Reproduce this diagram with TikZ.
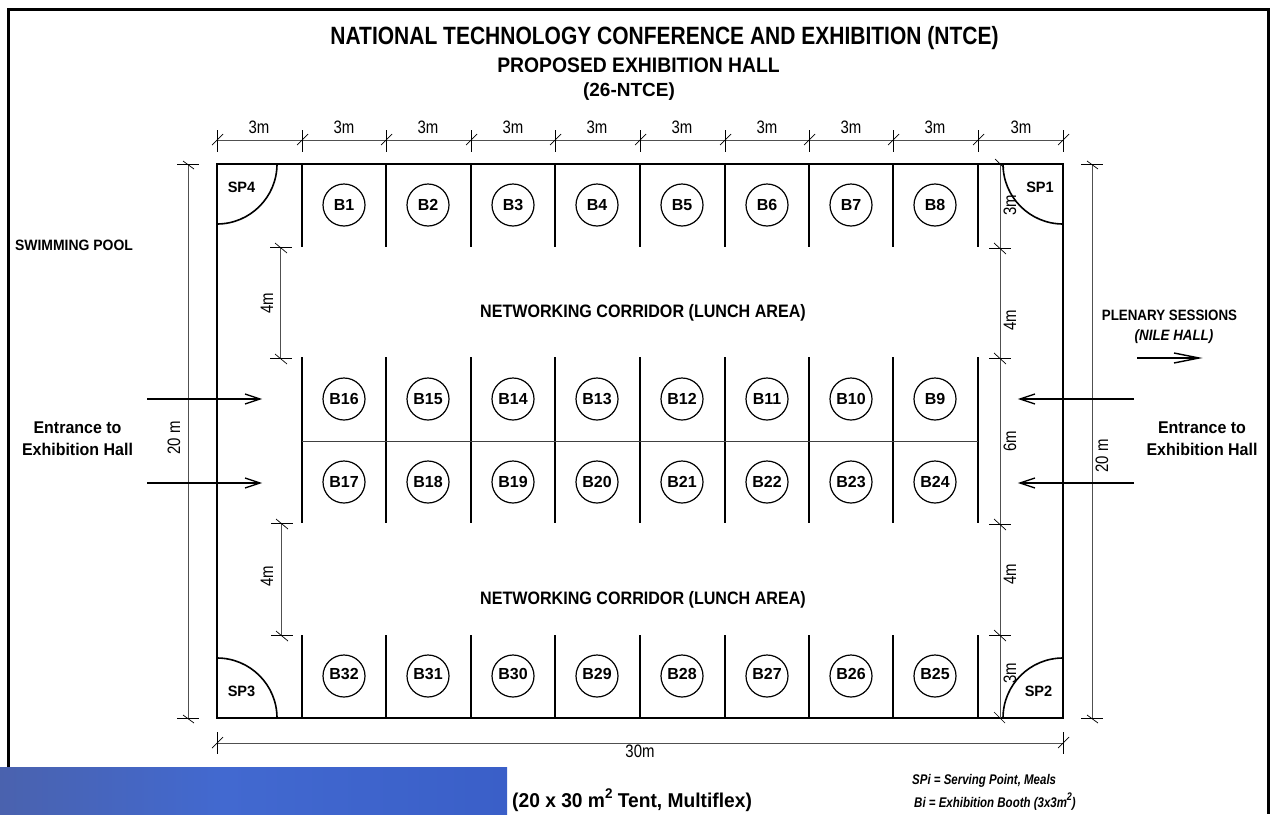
\documentclass[tikz,border=0pt]{standalone}
\usepackage{graphicx}
\usepackage{fontspec}
\setmainfont{Liberation Sans}
\definecolor{bandA}{HTML}{4A62AE}
\definecolor{bandB}{HTML}{4269D0}
\definecolor{bandC}{HTML}{3A5FC8}
\definecolor{bandD}{HTML}{2E52B8}
\definecolor{dimgray}{HTML}{505050}
\pgfdeclarehorizontalshading{bandshade}{100bp}{
  color(0bp)=(bandA); color(25bp)=(bandA); color(47bp)=(bandB); color(75bp)=(bandC); color(100bp)=(bandD)}
\newcommand\sqz[2]{\scalebox{#1}[1]{#2}}
\begin{document}
\begin{tikzpicture}[x=1pt,y=-1pt,
  wall/.style={line width=1.6pt,black},
  thin wall/.style={line width=1pt,black!75},
  dimline/.style={line width=1pt,dimgray},
  tick/.style={line width=0.7pt,black},
  booth/.style={circle,draw=black,line width=1.2pt,minimum size=42pt,inner sep=0pt,font=\bfseries\fontsize{16}{16}\selectfont},
  txt/.style={inner sep=0pt,font=\bfseries\fontsize{15}{16}\selectfont},
  dimtxt/.style={inner sep=0pt,font=\fontsize{18}{18}\selectfont},
  entry/.style={line width=1.4pt,black},
]
\useasboundingbox (0,0) rectangle (1274,814);
% frame
\draw[line width=3pt] (8,814) -- (8,9) -- (1268,9) -- (1268,814);
% band
\shade[shading=bandshade] (0,767) rectangle (507,814);
% titles
\node[txt,font=\bfseries\fontsize{25}{25}\selectfont] (t1) at (664.5,38) {\sqz{.84}{NATIONAL TECHNOLOGY CONFERENCE AND EXHIBITION (NTCE)}};
\node[txt,font=\bfseries\fontsize{21}{21}\selectfont] (t2) at (638.5,65) {\sqz{.92}{PROPOSED EXHIBITION HALL}};
\node[txt,font=\bfseries\fontsize{19}{19}\selectfont] (t3) at (629,92) {\sqz{1}{(26-NTCE)}};
% hall
\draw[wall] (217,164) rectangle (1063,718);
% quadrants
\draw[wall] (277,164) arc[start angle=0,end angle=90,radius=60];
\draw[wall] (1003,164) arc[start angle=180,end angle=90,radius=60];
\draw[wall] (217,658) arc[start angle=-90,end angle=0,radius=60];
\draw[wall] (1003,718) arc[start angle=180,end angle=270,radius=60];
\node[txt] (sp4) at (241.5,187.5) {\sqz{.97}{SP4}};
\node[txt] (sp1) at (1040,187.5) {\sqz{.97}{SP1}};
\node[txt] (sp3) at (241.5,691.5) {\sqz{.97}{SP3}};
\node[txt] (sp2) at (1038.5,691.5) {\sqz{.97}{SP2}};
% walls and booths
\foreach \x in {302,386,471,555,640,725,809,893,978}{
  \draw[wall] (\x,164) -- (\x,247);
  \draw[wall] (\x,357) -- (\x,523);
  \draw[wall] (\x,635) -- (\x,718);
}
\draw[thin wall] (302,441) -- (978,441);
\foreach \n/\x in {1/344,2/428,3/513,4/597,5/682,6/767,7/851,8/935}
  \node[booth] (b\n) at (\x,205) {B\n};
\foreach \n/\x in {16/344,15/428,14/513,13/597,12/682,11/767,10/851,9/935}
  \node[booth] (b\n) at (\x,399) {B\n};
\foreach \n/\x in {17/344,18/428,19/513,20/597,21/682,22/767,23/851,24/935}
  \node[booth] (b\n) at (\x,482) {B\n};
\foreach \n/\x in {32/344,31/428,30/513,29/597,28/682,27/767,26/851,25/935}
  \node[booth] (b\n) at (\x,676) {\raisebox{4pt}{B\n}};
% corridors
\node[txt,font=\bfseries\fontsize{18}{18}\selectfont] (c1) at (643,313) {\sqz{.895}{NETWORKING CORRIDOR (LUNCH AREA)}};
\node[txt,font=\bfseries\fontsize{18}{18}\selectfont] (c2) at (643,600) {\sqz{.895}{NETWORKING CORRIDOR (LUNCH AREA)}};
% top dimension
\draw[dimline] (217,140) -- (1063,140);
\foreach \x in {217,302,386,471,555,640,725,809,893,978,1063}{
  \draw[tick] (\x,130) -- (\x,152);
  \draw[tick] (\x-5,145) -- (\x+6,134);
}
\foreach \x in {259,344,428,513,597,682,767,851,935,1021}
  \node[dimtxt] at (\x,127) {\sqz{.83}{3m}};
% bottom dimension
\draw[dimline] (217,743) -- (1063,743);
\foreach \x in {217,1063}{
  \draw[tick] (\x,732) -- (\x,754);
  \draw[tick] (\x-5,748) -- (\x+6,737);
}
\node[dimtxt] at (640,751) {\sqz{.83}{30m}};
% left 20 m
\draw[dimline] (188,164) -- (188,718);
\foreach \y in {164,718}{
  \draw[tick] (177,\y) -- (199,\y);
  \draw[tick] (183,\y-3) -- (194,\y+5);
}
\node[dimtxt,rotate=90] at (174,438) {\sqz{.83}{20 m}};
% right 20 m
\draw[dimline] (1092,164) -- (1092,718);
\foreach \y in {164,718}{
  \draw[tick] (1081,\y) -- (1103,\y);
  \draw[tick] (1087,\y-3) -- (1098,\y+5);
}
\node[dimtxt,rotate=90] at (1102,456) {\sqz{.83}{20 m}};
% left 4m
\draw[dimline] (280,247) -- (280,358);
\draw[dimline] (281,523) -- (281,635);
\foreach \y/\xx in {247/280,358/280,523/281,635/281}{
  \draw[tick] (\xx-10,\y) -- (\xx+12,\y);
  \draw[tick] (\xx-5,\y-4) -- (\xx+7,\y+6);
}
\node[dimtxt,rotate=90] at (267,303) {\sqz{.83}{4m}};
\node[dimtxt,rotate=90] at (267,576) {\sqz{.83}{4m}};
% right chain
\draw[dimline] (1000,164) -- (1000,718);
\foreach \y in {248,358,524,635}{
  \draw[tick] (989,\y) -- (1011,\y);
  \draw[tick] (994,\y-5) -- (1006,\y+6);
}
\draw[tick] (995,159) -- (1004,168);
\draw[tick] (994,712) -- (1005,723);
\node[dimtxt,rotate=90] at (1010,205) {\sqz{.83}{3m}};
\node[dimtxt,rotate=90] at (1010,320) {\sqz{.83}{4m}};
\node[dimtxt,rotate=90] at (1010,441) {\sqz{.83}{6m}};
\node[dimtxt,rotate=90] at (1010,574) {\sqz{.83}{4m}};
\node[dimtxt,rotate=90] at (1010,673) {\sqz{.83}{3m}};
% entrances
\coordinate (la1) at (147,399); \coordinate (la1e) at (260,399);
\coordinate (la2) at (147,483); \coordinate (la2e) at (260,483);
\coordinate (ra1) at (1134,399); \coordinate (ra1e) at (1020,399);
\coordinate (ra2) at (1134,483); \coordinate (ra2e) at (1020,483);
\foreach \a/\b/\s in {la1/la1e/1,la2/la2e/1,ra1/ra1e/-1,ra2/ra2e/-1}{
  \draw[entry] (\a) -- (\b);
  \draw[entry] ([xshift=\s*-15pt,yshift=-5pt]\b) -- (\b) -- ([xshift=\s*-15pt,yshift=5pt]\b);
}
\node[txt,font=\bfseries\fontsize{17}{22}\selectfont,align=center] (el) at (77.5,439) {\sqz{.94}{Entrance to}\\\sqz{.94}{Exhibition Hall}};
\node[txt,font=\bfseries\fontsize{17}{22}\selectfont,align=center] (er) at (1202,439) {\sqz{.94}{Entrance to}\\\sqz{.94}{Exhibition Hall}};
% others
\node[txt] (pool) at (74,245) {\sqz{.93}{SWIMMING POOL}};
\node[txt] (pl) at (1169.5,315) {\sqz{.89}{PLENARY SESSIONS}};
\node[txt,font=\bfseries\itshape\fontsize{15}{15}\selectfont] (nh) at (1174,337) {\sqz{.89}{(NILE HALL)}};
\coordinate (pa) at (1137,358); \coordinate (pb) at (1199,358);
\draw[entry] (pa) -- (pb);
\draw[entry] ([xshift=-25pt,yshift=-5pt]pb) -- (pb) -- ([xshift=-25pt,yshift=5pt]pb);
\node[txt,anchor=west,font=\bfseries\fontsize{20}{20}\selectfont] (tent) at (512,800) {\sqz{.96}{(20 x 30 m\raisebox{.48em}{\fontsize{14}{14}\selectfont 2} Tent, Multiflex)}};
\node[txt,anchor=west,font=\bfseries\itshape\fontsize{14}{14}\selectfont] (k1) at (912,781) {\sqz{.82}{SPi = Serving Point, Meals}};
\node[txt,anchor=west,font=\bfseries\itshape\fontsize{14}{14}\selectfont] (k2) at (914,802) {\sqz{.82}{Bi = Exhibition Booth (3x3m\raisebox{.5em}{\fontsize{11}{11}\selectfont 2})}};
\end{tikzpicture}
\end{document}
